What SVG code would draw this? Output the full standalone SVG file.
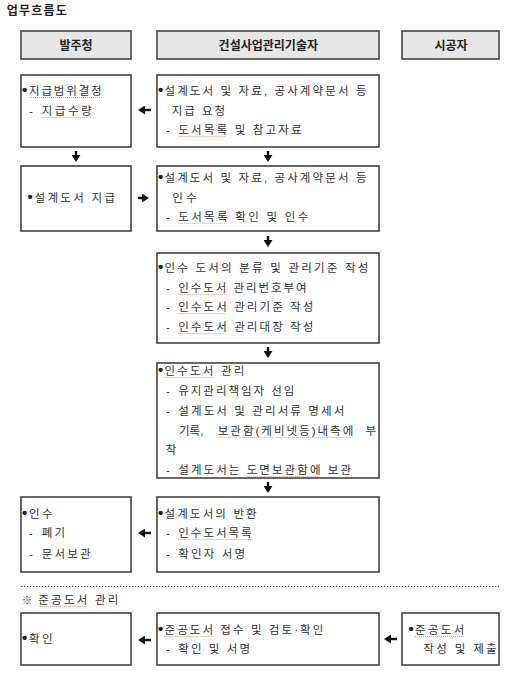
<svg xmlns="http://www.w3.org/2000/svg" width="509" height="683" viewBox="0 0 509 683">
<style>
  .t { font-family: "Liberation Sans", "Noto Sans CJK KR", sans-serif; font-size: 11.5px; fill: #333; }
  .b { font-family: "Liberation Sans", sans-serif; font-size: 15px; font-weight: bold; fill: #222; }
  .h { font-family: "Liberation Sans", "Noto Sans CJK KR", sans-serif; font-size: 12px; font-weight: bold; fill: #222; text-anchor: middle; }
  .title { font-family: "Liberation Sans", "Noto Sans CJK KR", sans-serif; font-size: 12px; font-weight: bold; fill: #222; }
  .box { fill: #fff; stroke: #444; stroke-width: 1.6; }
  .hbox { fill: #e6e6e6; stroke: #444; stroke-width: 1.6; }
  .arr { stroke: #111; stroke-width: 2.4; fill: none; marker-end: url(#ah); }
  .sp { stroke: #e89a6a; stroke-width: 0.9; stroke-dasharray: 1 1; }
  .dot { stroke: #444; stroke-width: 1.2; stroke-dasharray: 1.3 1.7; }
</style>
<defs>
  <marker id="ah" markerUnits="userSpaceOnUse" markerWidth="8" markerHeight="9" refX="2" refY="4.5" orient="auto">
    <path d="M0,0 L7,4.5 L0,9 Z" fill="#111"/>
  </marker>
</defs>
<rect width="509" height="683" fill="#fff"/>

<text class="title" x="6.7" y="15" textLength="60">업무흐름도</text>

<g id="header-owner"><rect class="hbox" x="21" y="31" width="110" height="28"/><text class="h" x="76" y="49.5">발주청</text></g>
<g id="header-cm"><rect class="hbox" x="157" y="31" width="222" height="28"/><text class="h" x="268.3" y="49.5">건설사업관리기술자</text></g>
<g id="header-contractor"><rect class="hbox" x="402" y="31" width="97" height="28"/><text class="h" x="451" y="49.5">시공자</text></g>

<g id="node-l1">
  <rect class="box" x="21" y="75" width="110" height="72"/>
  <text class="b" x="22" y="95">•</text><text class="t" x="29" y="95" textLength="72.7">지급범위결정</text>
  <text class="t" x="29" y="115">-</text><text class="t" x="41.7" y="115" textLength="50">지급수량</text>
</g>
<g id="node-m1">
  <rect class="box" x="157" y="75" width="222" height="72"/>
  <text class="b" x="158" y="95">•</text><text class="t" x="164.5" y="95" textLength="202">설계도서 및 자료, 공사계약문서 등</text>
  <text class="t" x="171.7" y="115" textLength="53.3">지급 요청</text>
  <text class="t" x="166" y="134">-</text><text class="t" x="178.3" y="134" textLength="123.4">도서목록 및 참고자료</text>
</g>
<g id="node-l2">
  <rect class="box" x="21" y="166" width="110" height="65"/>
  <text class="b" x="27.5" y="202">•</text><text class="t" x="34.5" y="202" textLength="80.5">설계도서 지급</text>
</g>
<g id="node-m2">
  <rect class="box" x="157" y="166" width="222" height="65"/>
  <text class="b" x="158" y="182">•</text><text class="t" x="164.5" y="182" textLength="202">설계도서 및 자료, 공사계약문서 등</text>
  <text class="t" x="172.3" y="202" textLength="24.4">인수</text>
  <text class="t" x="166" y="221">-</text><text class="t" x="178.3" y="221" textLength="130">도서목록 확인 및 인수</text>
</g>
<g id="node-m3">
  <rect class="box" x="157" y="253" width="222" height="90"/>
  <text class="b" x="158" y="272">•</text><text class="t" x="164.5" y="272" textLength="203.8">인수 도서의 분류 및 관리기준 작성</text>
  <text class="t" x="166" y="292">-</text><text class="t" x="178.3" y="292" textLength="128.4">인수도서 관리번호부여</text>
  <text class="t" x="166" y="311">-</text><text class="t" x="178.3" y="311" textLength="135">인수도서 관리기준 작성</text>
  <text class="t" x="166" y="331">-</text><text class="t" x="178.3" y="331" textLength="135">인수도서 관리대장 작성</text>
</g>
<g id="node-m4">
  <rect class="box" x="157" y="363" width="222" height="115"/>
  <text class="b" x="158" y="375">•</text><text class="t" x="164.5" y="375" textLength="79.8">인수도서 관리</text>
  <text class="t" x="166" y="395">-</text><text class="t" x="178.3" y="395" textLength="116">유지관리책임자 선임</text>
  <text class="t" x="166" y="415">-</text><text class="t" x="178.3" y="415" textLength="166">설계도서 및 관리서류 명세서</text>
  <text class="t" y="435"><tspan x="179">기록,</tspan> <tspan x="217.7" textLength="135.6">보관함(케비넷등)내측에</tspan> <tspan x="365.5">부</tspan></text>
  <text class="t" x="165.7" y="454">착</text>
  <text class="t" x="166" y="474">-</text><text class="t" x="178.3" y="474" textLength="172.7">설계도서는 도면보관함에 보관</text>
</g>
<g id="node-l5">
  <rect class="box" x="21" y="497" width="110" height="75"/>
  <text class="b" x="22" y="518">•</text><text class="t" x="29" y="518" textLength="23.7">인수</text>
  <text class="t" x="29" y="537">-</text><text class="t" x="41.7" y="537" textLength="23.3">폐기</text>
  <text class="t" x="29" y="558">-</text><text class="t" x="41.7" y="558" textLength="49">문서보관</text>
</g>
<g id="node-m5">
  <rect class="box" x="157" y="497" width="222" height="75"/>
  <text class="b" x="158" y="518">•</text><text class="t" x="164.5" y="518" textLength="92.2">설계도서의 반환</text>
  <text class="t" x="166" y="537">-</text><text class="t" x="178.3" y="537" textLength="73.4">인수도서목록</text>
  <text class="t" x="166" y="558">-</text><text class="t" x="178.3" y="558" textLength="66.7">확인자 서명</text>
</g>

<line class="dot" x1="21" y1="586.5" x2="499" y2="586.5"/>
<text class="t" x="22" y="604" style="font-size:10px">※</text><text class="t" x="38.3" y="604" textLength="80">준공도서 관리</text>

<g id="node-l6">
  <rect class="box" x="21" y="613" width="110" height="52"/>
  <text class="b" x="22" y="643">•</text><text class="t" x="29" y="643" textLength="23.7">확인</text>
</g>
<g id="node-m6">
  <rect class="box" x="157" y="613" width="222" height="52"/>
  <text class="b" x="158" y="634">•</text><text class="t" x="164.5" y="634" textLength="158.8">준공도서 접수 및 검토·확인</text>
  <text class="t" x="166" y="653">-</text><text class="t" x="178.3" y="653" textLength="71.7">확인 및 서명</text>
</g>
<g id="node-r6">
  <rect class="box" x="402" y="613" width="97" height="52"/>
  <text class="b" x="408.5" y="634">•</text><text class="t" x="415" y="634" textLength="49.3">준공도서</text>
  <text class="t" x="423.3" y="653" textLength="73.4">작성 및 제출</text>
</g>

<g id="spellcheck">
  <line class="sp" x1="29" y1="97.5" x2="101.7" y2="97.5"/>
  <line class="sp" x1="41.7" y1="117.5" x2="91.7" y2="117.5"/>
  <line class="sp" x1="178.3" y1="136.5" x2="226" y2="136.5"/>
  <line class="sp" x1="178.3" y1="223.5" x2="226" y2="223.5"/>
  <line class="sp" x1="178.3" y1="294.5" x2="226" y2="294.5"/>
  <line class="sp" x1="178.3" y1="313.5" x2="226" y2="313.5"/>
  <line class="sp" x1="178.3" y1="333.5" x2="226" y2="333.5"/>
  <line class="sp" x1="164.5" y1="377.5" x2="213.5" y2="377.5"/>
  <line class="sp" x1="217.7" y1="437.5" x2="353" y2="437.5"/>
  <line class="sp" x1="246.7" y1="476.5" x2="318" y2="476.5"/>
  <line class="sp" x1="178.3" y1="539.5" x2="252" y2="539.5"/>
  <line class="sp" x1="38.3" y1="606.5" x2="86" y2="606.5"/>
  <line class="sp" x1="164.5" y1="636.5" x2="213.5" y2="636.5"/>
  <line class="sp" x1="415" y1="636.5" x2="464" y2="636.5"/>
</g>

<g id="connectors">
  <line class="arr" x1="151" y1="110" x2="143" y2="110"/>
  <line class="arr" x1="76" y1="151" x2="76" y2="157"/>
  <line class="arr" x1="268" y1="151" x2="268" y2="157"/>
  <line class="arr" x1="138" y1="198" x2="144" y2="198"/>
  <line class="arr" x1="268" y1="236" x2="268" y2="242"/>
  <line class="arr" x1="268" y1="347" x2="268" y2="353"/>
  <line class="arr" x1="268" y1="482" x2="268" y2="488"/>
  <line class="arr" x1="151" y1="533" x2="143" y2="533"/>
  <line class="arr" x1="151" y1="640" x2="143" y2="640"/>
  <line class="arr" x1="397" y1="639" x2="389" y2="639"/>
</g>
</svg>
